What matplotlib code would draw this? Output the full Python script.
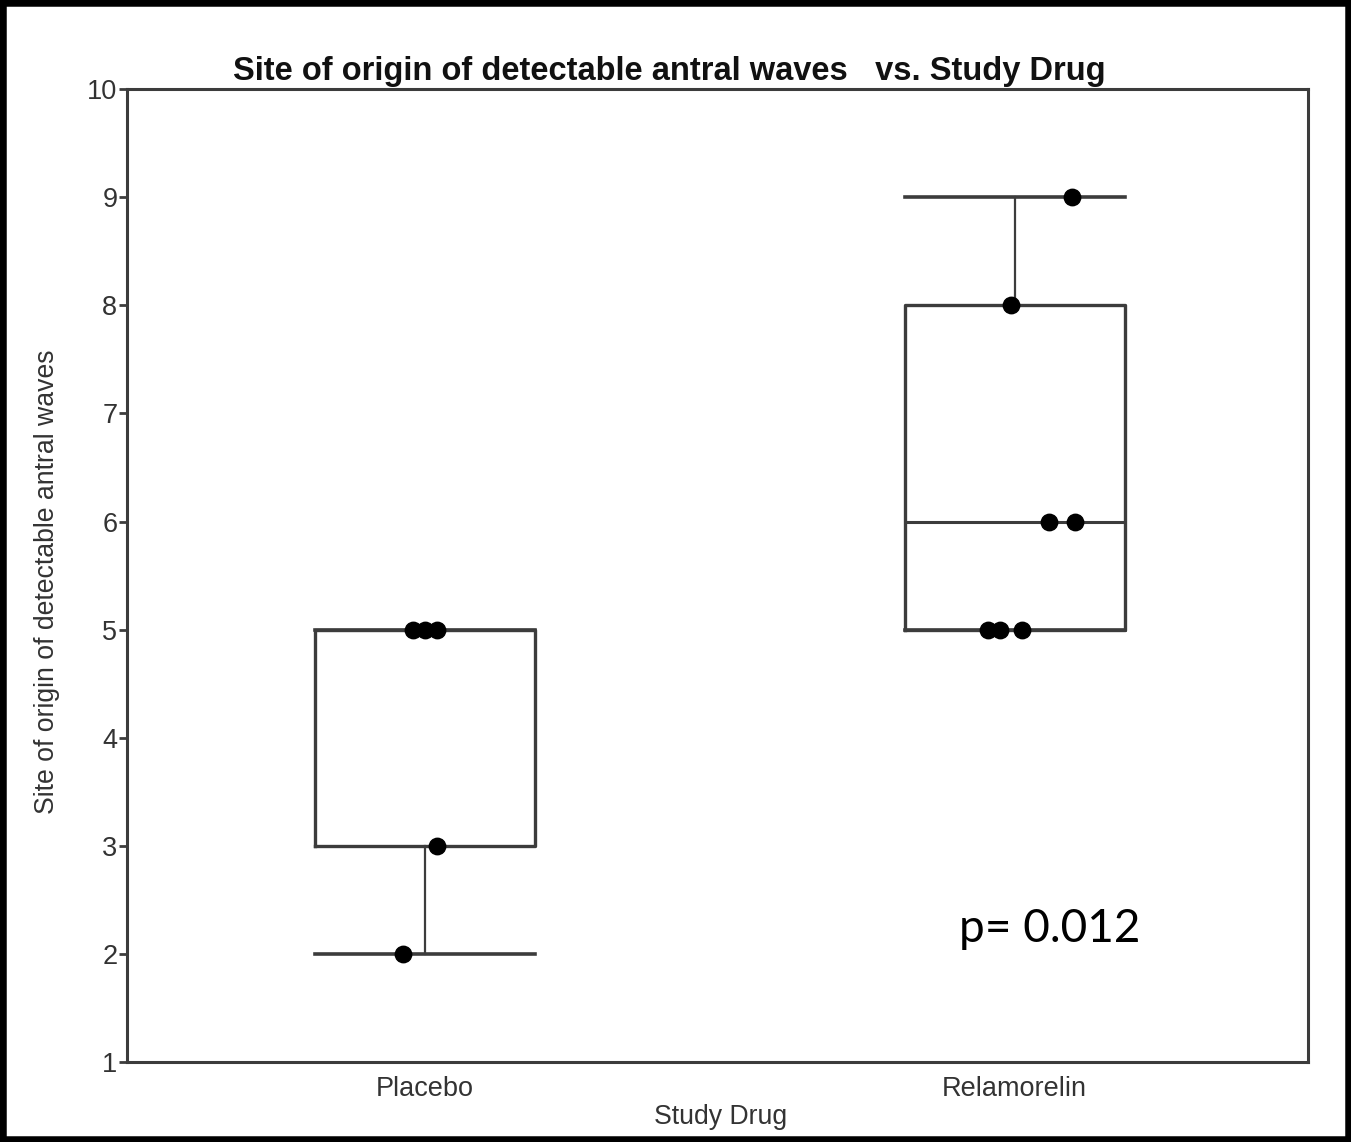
import matplotlib.pyplot as plt
from matplotlib.patches import Rectangle

# data
groups = ["Placebo", "Relamorelin"]
placebo_vals = [5, 5, 5, 3, 2]
placebo_jit = [-0.02, 0.0, 0.02, 0.02, -0.037]
relamorelin_vals = [9, 8, 6, 6, 5, 5, 5]
relamorelin_jit = [0.097, -0.007, 0.058, 0.103, -0.046, -0.025, 0.012]

# box stats as shown (whisker low, q1, median, q3, whisker high)
whislo = [2, 5]
q1 = [3, 5]
med = [5, 6]
q3 = [5, 8]
whishi = [5, 9]

yticks = list(range(1, 11))

plt.rcParams["font.family"] = ["Liberation Sans", "DejaVu Sans"]

fig = plt.figure(figsize=(13.51, 11.42), dpi=100)
ax = fig.add_axes([0.094, 0.070, 0.874, 0.852])

line_c = "#3c3c3c"
stats = []
for i in range(len(groups)):
    stats.append(dict(whislo=whislo[i], q1=q1[i], med=med[i], q3=q3[i],
                      whishi=whishi[i], fliers=[], label=groups[i]))

ax.bxp(stats, positions=[0, 1], widths=0.373, capwidths=0.373,
       showfliers=False,
       boxprops=dict(color=line_c, linewidth=2.4),
       medianprops=dict(color=line_c, linewidth=2.2),
       whiskerprops=dict(color=line_c, linewidth=1.6),
       capprops=dict(color=line_c, linewidth=2.6))

all_vals = [placebo_vals, relamorelin_vals]
all_jit = [placebo_jit, relamorelin_jit]
for i in range(len(groups)):
    xs = [i + j for j in all_jit[i]]
    ax.scatter(xs, all_vals[i], s=140, color="black", zorder=5)

ax.set_xlim(-0.505, 1.497)
ax.set_ylim(1, 10)
ax.set_yticks(yticks)
ax.set_xticks([0, 1])
ax.set_xticklabels(groups)

for sp in ax.spines.values():
    sp.set_color(line_c)
    sp.set_linewidth(2.2)

ax.tick_params(axis="y", length=6, width=2, color=line_c, pad=1,
               labelsize=19.5, labelcolor="#333333")
ax.tick_params(axis="x", length=0, pad=10, labelsize=19.5, labelcolor="#333333")

ax.text(1.06, 2.23, "p= 0.012", fontsize=33, family=["Lato", "DejaVu Sans"],
        ha="center", va="center", color="black")

fig.text(0.4956, 0.9375, "Site of origin of detectable antral waves   vs. Study Drug",
         ha="center", va="center", fontsize=23.5, fontweight="bold", color="#111111")
fig.text(0.0348, 0.491, "Site of origin of detectable antral waves", rotation=90,
         ha="center", va="center", fontsize=19.2, color="#333333")
fig.text(0.533, 0.022, "Study Drug", ha="center", va="center",
         fontsize=19.2, color="#333333")

# thick black frame around the whole picture
fig.patches.append(Rectangle((0, 0), 1, 1, transform=fig.transFigure,
                             fill=False, edgecolor="black", linewidth=9))

fig.savefig("out.png", dpi=100)
